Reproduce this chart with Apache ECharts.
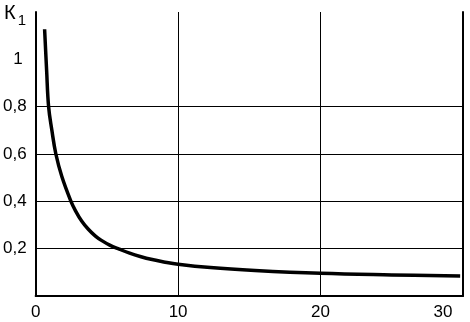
<!DOCTYPE html>
<html>
<head>
<meta charset="utf-8">
<script src="https://cdn.jsdelivr.net/npm/echarts@6/dist/echarts.min.js"></script>
<style>
html,body{margin:0;padding:0;background:#fff;}
#chart{width:470px;height:322px;}
</style>
</head>
<body>
<div id="chart"></div>
<script>
// Values
var xValues = [0.63, 0.77, 0.91, 1.14, 1.42, 1.84, 2.48, 2.8, 3.23, 3.7, 4.2, 4.62, 5.2, 5.87, 6.6, 7.4, 8.1, 9.0, 10.0, 12.27, 15.4, 20.0, 25.0, 29.8];
var kValues = [1.127, 0.955, 0.80, 0.70, 0.60, 0.505, 0.40, 0.360, 0.317, 0.282, 0.253, 0.235, 0.215, 0.198, 0.181, 0.166, 0.155, 0.144, 0.134, 0.120, 0.108, 0.096, 0.089, 0.084];
var xTicks = [0, 10, 20, 30];
var yTickLabels = {0.2: '0,2', 0.4: '0,4', 0.6: '0,6', 0.8: '0,8', 1: '1'};
var yTitle = 'К';
var ySub = '1';

var points = xValues.map(function (x, i) { return [x, kValues[i]]; });
var font = 'Liberation Sans, Arial, sans-serif';
var chart = echarts.init(document.getElementById('chart'), null, {renderer: 'canvas'});
chart.setOption({
  animation: false,
  backgroundColor: '#fff',
  title: {
    text: '{k|' + yTitle + '}{s|' + ySub + '}',
    left: -1, top: -2,
    textStyle: {
      fontWeight: 'normal',
      rich: {
        k: {fontFamily: font, fontSize: 20, fontWeight: 'normal', color: '#000', verticalAlign: 'top'},
        s: {fontFamily: font, fontSize: 15, fontWeight: 'normal', color: '#000', padding: [10, 0, 0, 2]}
      }
    }
  },
  grid: {left: 33.6, right: 7, top: 12, bottom: 26, containLabel: false},
  xAxis: {
    type: 'value', min: xTicks[0], max: xTicks[xTicks.length - 1], interval: 10,
    axisLine: {show: true, lineStyle: {color: '#000', width: 2}},
    axisTick: {show: false},
    splitLine: {show: true, lineStyle: {color: ['rgba(0,0,0,0)', '#000', '#000', 'rgba(0,0,0,0)'], width: 1}},
    axisLabel: {
      margin: 8, color: '#000', fontFamily: font, fontSize: 17,
      formatter: function (v) { return v === 30 ? '{r|30}' : String(v); },
      rich: {r: {fontFamily: font, fontSize: 17, color: '#000', padding: [0, 40, 0, 0]}}
    }
  },
  yAxis: [{
    type: 'value', min: 0, max: 1.2, interval: 0.2,
    axisLine: {show: true, lineStyle: {color: '#000', width: 2}},
    axisTick: {show: false},
    splitLine: {show: true, lineStyle: {color: ['rgba(0,0,0,0)', '#000', '#000', '#000', '#000', 'rgba(0,0,0,0)', 'rgba(0,0,0,0)'], width: 1}},
    axisLabel: {
      margin: 9, color: '#000', fontFamily: font, fontSize: 17,
      formatter: function (v) {
        var k = Math.round(v * 10) / 10;
        var t = yTickLabels[k];
        if (!t) return '';
        return k === 1 ? '{o|1}' : t;
      },
      rich: {o: {fontFamily: font, fontSize: 17, color: '#000', padding: [0, 4, 0, 0]}}
    }
  }, {
    type: 'value', min: 0, max: 1.2, interval: 0.2, position: 'right',
    axisLine: {show: true, lineStyle: {color: '#000', width: 2}},
    axisTick: {show: false}, axisLabel: {show: false}, splitLine: {show: false}
  }],
  series: [{
    type: 'line', data: points, smooth: 0.4, symbol: 'none', yAxisIndex: 0,
    lineStyle: {color: '#000', width: 3.5}
  }]
});
</script>
</body>
</html>
